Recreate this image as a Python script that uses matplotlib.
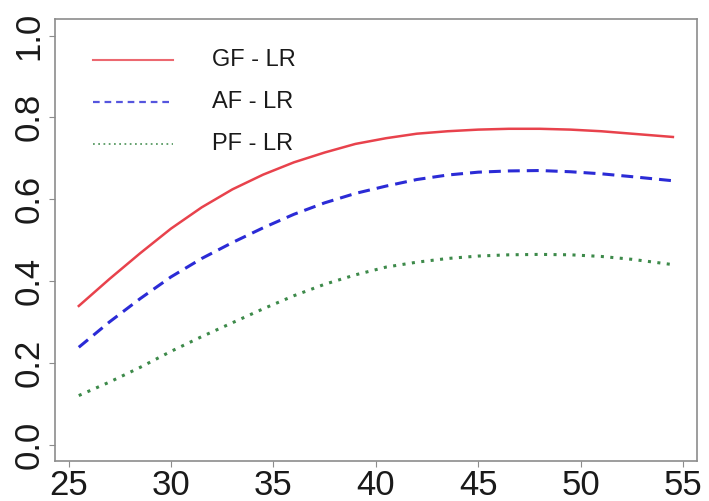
import numpy as np
import matplotlib.pyplot as plt

plt.rcParams["font.family"] = ["Liberation Sans", "DejaVu Sans"]

# age grid and fitted probabilities for each model
age = [25.5, 27, 28.5, 30, 31.5, 33, 34.5, 36, 37.5, 39, 40.5, 42,
       43.5, 45, 46.5, 48, 49.5, 51, 52.5, 54.5]
gf_lr = [0.339, 0.405, 0.468, 0.528, 0.580, 0.624, 0.660, 0.690, 0.714, 0.735,
         0.749, 0.760, 0.766, 0.770, 0.772, 0.772, 0.770, 0.766, 0.760, 0.752]
af_lr = [0.238, 0.300, 0.357, 0.410, 0.455, 0.494, 0.530, 0.563, 0.591, 0.614,
         0.632, 0.648, 0.659, 0.666, 0.669, 0.670, 0.667, 0.662, 0.655, 0.645]
pf_lr = [0.120, 0.153, 0.189, 0.228, 0.264, 0.298, 0.332, 0.364, 0.392, 0.415,
         0.434, 0.446, 0.455, 0.461, 0.464, 0.465, 0.464, 0.460, 0.453, 0.440]

labels = ["GF - LR", "AF - LR", "PF - LR"]
xticks = [25, 30, 35, 40, 45, 50, 55]
yticks = [0.0, 0.2, 0.4, 0.6, 0.8, 1.0]

red = "#e8424c"
blue = "#2b2bd6"
green = "#3d8a4a"
frame_col = "#8c8c8c"

fig = plt.figure(figsize=(7.09, 5.01), dpi=100)
ax = fig.add_axes([0.0776, 0.0798, 0.905, 0.882])

styles = [
    dict(color=red, lw=1.8, linestyle="-"),
    dict(color=blue, lw=2.2, linestyle=(0, (3.9, 2.3))),
    dict(color=green, lw=2.2, linestyle=(0, (1.0, 2.1))),
]
for series, st in zip([gf_lr, af_lr, pf_lr], styles):
    ax.plot(age, series, **st)

ax.set_xlim(24.34, 55.66)
ax.set_ylim(-0.04, 1.04)
ax.set_xticks(xticks)
ax.set_yticks(yticks)
ax.set_xticklabels([str(t) for t in xticks], fontsize=25)
ax.set_yticklabels([f"{t:.1f}" for t in yticks], fontsize=25,
                   rotation=90, va="center")

for s in ax.spines.values():
    s.set_color(frame_col)
    s.set_linewidth(1.2)
ax.tick_params(axis="both", direction="out", length=4, width=0.8,
               color=frame_col, labelcolor="#1a1a1a", pad=3)
ax.tick_params(axis="x", pad=2)

# hand-placed key in the upper left corner
key_y = [0.907, 0.812, 0.717]
key_styles = [
    dict(color=red, lw=1.5, linestyle="-"),
    dict(color=blue, lw=1.6, linestyle=(0, (3.0, 2.2))),
    dict(color=green, lw=1.4, linestyle=(0, (0.9, 1.8))),
]
for ky, lab, st in zip(key_y, labels, key_styles):
    ax.plot([0.059, 0.184], [ky, ky], transform=ax.transAxes, alpha=0.8, **st)
    ax.text(0.245, ky, lab, transform=ax.transAxes, fontsize=17,
            va="center", ha="left", color="#1a1a1a")

fig.savefig("out.png", dpi=100)
